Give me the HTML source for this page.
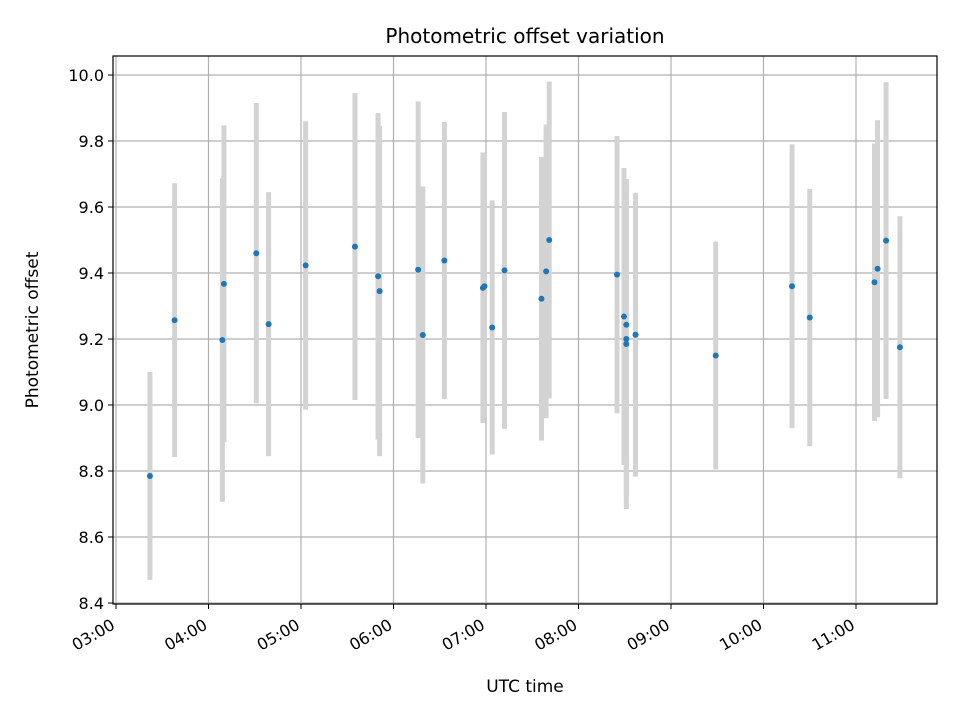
<!DOCTYPE html>
<html><head><meta charset="utf-8"><style>
body{margin:0;background:#fff}
svg text{font-family:"DejaVu Sans","Liberation Sans",sans-serif;fill:#000}
</style></head><body>
<svg id="chart" width="960" height="720" xmlns="http://www.w3.org/2000/svg">
<rect width="960" height="720" fill="#fff"/>
<text x="525" y="43" font-size="20" text-anchor="middle">Photometric offset variation</text>
<g id="grid"></g><g id="bars"></g><g id="pts"></g><g id="axes"></g>
<rect x="113" y="56" width="824" height="548" fill="none" stroke="#000" stroke-width="1.2"/>
<text x="525" y="692" font-size="17" text-anchor="middle">UTC time</text>
<text transform="translate(38,330) rotate(-90)" font-size="17" text-anchor="middle">Photometric offset</text>
</svg>
<script>
const times=["03:22","03:38","04:09","04:10","04:31","04:39","05:03","05:35","05:50","05:51","06:16","06:19","06:33","06:58","06:59","07:04","07:12","07:36","07:39","07:41","08:25","08:29.5","08:31","08:31","08:31","08:37","09:29","10:18.5","10:30","11:12","11:14","11:19.5","11:28.5"];
const offsets=[8.785,9.257,9.197,9.367,9.46,9.245,9.423,9.48,9.39,9.345,9.41,9.212,9.438,9.355,9.36,9.235,9.408,9.322,9.405,9.5,9.395,9.268,9.243,9.2,9.185,9.213,9.15,9.36,9.265,9.372,9.413,9.498,9.175];
const errors=[0.315,0.415,0.49,0.48,0.455,0.40,0.437,0.465,0.495,0.5,0.51,0.45,0.42,0.41,0.40,0.385,0.48,0.43,0.445,0.48,0.42,0.45,0.4,0.48,0.5,0.43,0.345,0.43,0.39,0.42,0.45,0.48,0.397];
const yTicks=[8.4,8.6,8.8,9.0,9.2,9.4,9.6,9.8,10.0];
const xTickLabels=["03:00","04:00","05:00","06:00","07:00","08:00","09:00","10:00","11:00"];
const NS="http://www.w3.org/2000/svg";
function toH(s){const p=s.split(":");return +p[0]+(+p[1])/60;}
function xs(h){return 116+(h-3)*92.5;}
function ys(v){return 405-(v-9)*330;}
function mk(tag,attrs,parent){const e=document.createElementNS(NS,tag);for(const k in attrs)e.setAttribute(k,attrs[k]);document.getElementById(parent).appendChild(e);return e;}
yTicks.forEach(v=>{
  const y=ys(v);
  const g=mk("line",{x1:113,x2:937,y1:y,y2:y,stroke:"#b0b0b0","stroke-width":1.2},"grid");
  
  
  mk("line",{x1:108,x2:113,y1:y,y2:y,stroke:"#000"},"axes");
  const t=mk("text",{x:104,y:y+6,"font-size":16,"text-anchor":"end"},"axes");
  t.textContent=v.toFixed(1);
  
  
});
xTickLabels.forEach(s=>{
  const x=xs(toH(s));
  const g=mk("line",{x1:x,x2:x,y1:56,y2:604,stroke:"#b0b0b0","stroke-width":1.2},"grid");
  
  
  mk("line",{x1:x,x2:x,y1:604,y2:609,stroke:"#000"},"axes");
  const t=mk("text",{x:0,y:0,"font-size":16,"text-anchor":"end",transform:`translate(${x},${628}) rotate(-30)`},"axes");
  t.textContent=s;
  
  
});
times.forEach((s,i)=>{
  const x=xs(toH(s)),v=offsets[i],e=errors[i];
  const b=mk("line",{x1:x,x2:x,y1:ys(v+e),y2:ys(v-e),stroke:"#d3d3d3","stroke-width":5},"bars");
  
  
  const c=mk("circle",{cx:x,cy:ys(v),r:3,fill:"#1f77b4"},"pts");
  
  
});
</script>
</body></html>
